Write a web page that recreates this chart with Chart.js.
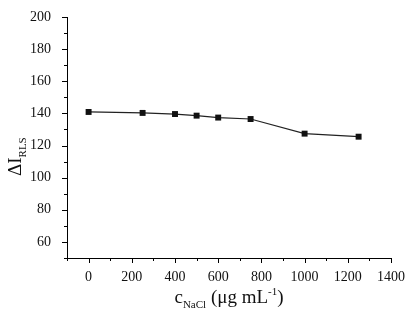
<!DOCTYPE html>
<html>
<head>
<meta charset="utf-8">
<script src="https://cdn.jsdelivr.net/npm/chart.js@4"></script>
<style>
  body { margin: 0; background: #fff; }
  canvas { display: block; }
</style>
</head>
<body>
<canvas id="chart" width="409" height="320"></canvas>
<script>
// concentration of NaCl (ug/mL) and the RLS signal
const naclConc = [0, 250, 400, 500, 600, 750, 1000, 1250];
const deltaI = [140.9, 140.3, 139.6, 138.6, 137.4, 136.5, 127.4, 125.5];

const xTicks = [0, 200, 400, 600, 800, 1000, 1200, 1400];
const yTicks = [60, 80, 100, 120, 140, 160, 180, 200];

const serif = "'Liberation Serif', 'DejaVu Serif', serif";
Chart.defaults.font.family = serif;

// ticks drawn outside the axes, major and minor, plus the axis titles with sub/superscripts
const axisDecor = {
    id: 'axisDecor',
    afterDraw(chart) {
        const ctx = chart.ctx;
        const xs = chart.scales.x;
        const ys = chart.scales.y;
        const area = chart.chartArea;
        ctx.save();
        ctx.strokeStyle = '#000';
        ctx.lineWidth = 1;
        ctx.beginPath();
        // y axis ticks
        for (let v = ys.min; v <= ys.max; v += 10) {
            const py = Math.round(ys.getPixelForValue(v)) + 0.5;
            const len = (v % 20 === 0) ? 5 : 3;
            ctx.moveTo(area.left, py);
            ctx.lineTo(area.left - len, py);
        }
        // x axis ticks
        for (let v = xs.min; v <= xs.max; v += 100) {
            const px = Math.round(xs.getPixelForValue(v)) + 0.5;
            const len = (v % 200 === 0) ? 5 : 3;
            ctx.moveTo(px, area.bottom);
            ctx.lineTo(px, area.bottom + len);
        }
        ctx.stroke();

        ctx.fillStyle = '#111';
        ctx.textBaseline = 'alphabetic';
        ctx.textAlign = 'left';

        // x title: c_NaCl (μg mL^-1)
        const parts = [
            { t: 'c', size: 19, dy: 0 },
            { t: 'NaCl', size: 11, dy: 5 },
            { t: ' (\u03bcg mL', size: 19, dy: 0 },
            { t: '-1', size: 11, dy: -8 },
            { t: ')', size: 19, dy: 0 }
        ];
        let total = 0;
        parts.forEach(p => {
            ctx.font = p.size + 'px ' + serif;
            p.w = ctx.measureText(p.t).width;
            total += p.w;
        });
        let x = 229 - total / 2;
        const base = 303;
        parts.forEach(p => {
            ctx.font = p.size + 'px ' + serif;
            ctx.fillText(p.t, x, base + p.dy);
            x += p.w;
        });

        // y title: ΔI_RLS, rotated
        ctx.translate(21, 176);
        ctx.rotate(-Math.PI / 2);
        ctx.font = '19px ' + serif;
        ctx.fillText('\u0394I', 0, 0);
        const w1 = ctx.measureText('\u0394I').width;
        ctx.font = '11px ' + serif;
        ctx.fillText('RLS', w1, 5);
        ctx.restore();
    }
};

new Chart(document.getElementById('chart'), {
    type: 'line',
    data: {
        datasets: [{
            data: naclConc.map((c, i) => ({ x: c, y: deltaI[i] })),
            borderColor: '#222',
            borderWidth: 1.2,
            backgroundColor: '#111',
            pointStyle: 'rect',
            pointRadius: 4.2,
            pointBorderWidth: 0,
            tension: 0
        }]
    },
    options: {
        responsive: false,
        animation: false,
        layout: { padding: { top: 17, right: 18, left: 0, bottom: 0 } },
        plugins: {
            legend: { display: false },
            tooltip: { enabled: false }
        },
        scales: {
            x: {
                type: 'linear',
                min: -100,
                max: 1400,
                afterBuildTicks: s => { s.ticks = xTicks.map(v => ({ value: v })); },
                afterFit: s => { s.height = 62; },
                grid: { display: false },
                border: { display: true, color: '#000', width: 1 },
                ticks: {
                    color: '#111',
                    padding: 3,
                    maxRotation: 0,
                    callback: v => String(v),
                    font: { family: serif, size: 14 }
                }
            },
            y: {
                min: 50,
                max: 200,
                afterBuildTicks: s => { s.ticks = yTicks.map(v => ({ value: v })); },
                afterFit: s => { s.width = 67; },
                grid: { display: false },
                border: { display: true, color: '#000', width: 1 },
                ticks: {
                    color: '#111',
                    padding: 8,
                    callback: v => String(v),
                    font: { family: serif, size: 14 }
                }
            }
        }
    },
    plugins: [axisDecor]
});
</script>
</body>
</html>
